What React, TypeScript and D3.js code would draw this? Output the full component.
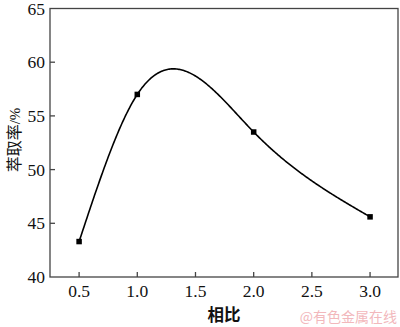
import React from "react";
import * as d3 from "d3";

const ratios = [0.5, 1.0, 2.0, 3.0];
const extraction = [43.3, 57.0, 53.5, 45.6];
const xTicks = [0.5, 1.0, 1.5, 2.0, 2.5, 3.0];
const yTicks = [40, 45, 50, 55, 60, 65];
const xTitle = "相比";
const yTitleMain = "萃取率";
const yTitleUnit = "/%";
const watermark = "@有色金属在线";

// natural cubic spline in x
function naturalSpline(xs: number[], ys: number[]) {
  const n = xs.length;
  const h: number[] = [];
  for (let i = 0; i < n - 1; i++) h.push(xs[i + 1] - xs[i]);
  const m = n - 2;
  const a: number[] = [], b: number[] = [], c: number[] = [], d: number[] = [];
  for (let i = 1; i <= m; i++) {
    a.push(h[i - 1]);
    b.push(2 * (h[i - 1] + h[i]));
    c.push(h[i]);
    d.push(6 * ((ys[i + 1] - ys[i]) / h[i] - (ys[i] - ys[i - 1]) / h[i - 1]));
  }
  for (let i = 1; i < m; i++) {
    const w = a[i] / b[i - 1];
    b[i] -= w * c[i - 1];
    d[i] -= w * d[i - 1];
  }
  const Mi: number[] = new Array(m).fill(0);
  for (let i = m - 1; i >= 0; i--) {
    Mi[i] = (d[i] - (i < m - 1 ? c[i] * Mi[i + 1] : 0)) / b[i];
  }
  const M = [0, ...Mi, 0];
  return (x: number) => {
    let i = 0;
    while (i < n - 2 && x > xs[i + 1]) i++;
    const hi = h[i];
    const t1 = xs[i + 1] - x;
    const t0 = x - xs[i];
    return (
      (M[i] * t1 * t1 * t1) / (6 * hi) +
      (M[i + 1] * t0 * t0 * t0) / (6 * hi) +
      (ys[i] / hi - (M[i] * hi) / 6) * t1 +
      (ys[i + 1] / hi - (M[i + 1] * hi) / 6) * t0
    );
  };
}

export default function App() {
  const W = 400, H = 327;
  const left = 50, right = 398, top = 8.5, bottom = 277;
  const x = d3.scaleLinear().domain([0.25, 3.24]).range([left, right]);
  const y = d3.scaleLinear().domain([40, 65]).range([bottom, top]);
  const f = naturalSpline(ratios, extraction);
  const samples = d3.range(0, 301).map((i) => {
    const xv = ratios[0] + ((ratios[ratios.length - 1] - ratios[0]) * i) / 300;
    return [xv, f(xv)] as [number, number];
  });
  const line = d3.line<[number, number]>().x((d) => x(d[0])).y((d) => y(d[1]));
  const serif = "'Liberation Serif', 'Times New Roman', serif";
  const cjk = "'Noto Sans CJK SC', sans-serif";
  const axisColor = "#444";
  return (
    <svg width={W} height={H} style={{ position: "absolute", left: 0, top: 0, background: "#fff" }}>
      <rect x={left} y={top} width={right - left} height={bottom - top} fill="none" stroke={axisColor} strokeWidth={1.3} />
      {yTicks.map((t) => (
        <g key={"y" + t}>
          {t !== 40 && t !== 65 && (
            <line x1={left} x2={left + 5} y1={y(t)} y2={y(t)} stroke={axisColor} strokeWidth={1.3} />
          )}
          <text x={left - 5} y={y(t)} dy="0.35em" textAnchor="end" fontFamily={serif} fontSize={17.5} fill="#111">
            {t}
          </text>
        </g>
      ))}
      {xTicks.map((t) => (
        <g key={"x" + t}>
          <line x1={x(t)} x2={x(t)} y1={bottom} y2={bottom - 5} stroke={axisColor} strokeWidth={1.3} />
          <text x={x(t)} y={297} textAnchor="middle" fontFamily={serif} fontSize={17.5} fill="#111">
            {t.toFixed(1)}
          </text>
        </g>
      ))}
      <path d={line(samples) || ""} fill="none" stroke="#000" strokeWidth={1.6} />
      {ratios.map((r, i) => (
        <rect key={"m" + i} x={x(r) - 2.75} y={y(extraction[i]) - 2.75} width={5.5} height={5.5} fill="#000" />
      ))}
      <text x={224} y={321} textAnchor="middle" fontFamily={cjk} fontWeight="bold" fontSize={16.5} fill="#111">
        {xTitle}
      </text>
      <text transform={`translate(20,140) rotate(-90)`} textAnchor="middle" fill="#111">
        <tspan fontFamily={cjk} fontSize={16}>{yTitleMain}</tspan>
        <tspan fontFamily={serif} fontSize={15}>{yTitleUnit}</tspan>
      </text>
      <text x={397} y={322} textAnchor="end" fontFamily={cjk} fontSize={14} fill="#f2b8bc">
        {watermark}
      </text>
    </svg>
  );
}
